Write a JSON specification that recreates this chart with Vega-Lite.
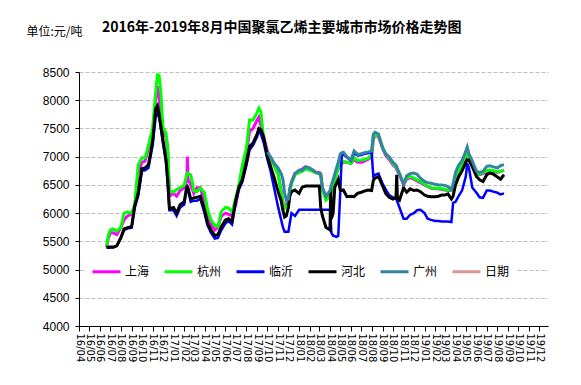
{
"$schema":"https://vega.github.io/schema/vega-lite/v6.json",
"width":469,"height":254,
"autosize":{"type":"none"},
"padding":{"left":79,"top":72,"right":33,"bottom":59},
"background":"white",
"title":{"text":"2016年-2019年8月中国聚氯乙烯主要城市市场价格走势图","anchor":"start","frame":"group","dx":23,"offset":-10,"font":"Noto Sans CJK SC","fontSize":14,"fontWeight":"bold","color":"black"},
"datasets":{
"sh":[{"d":"2016/06/20","v":5400},{"d":"2016/06/25","v":5550},{"d":"2016/07/01","v":5650},{"d":"2016/07/10","v":5650},{"d":"2016/07/20","v":5620},{"d":"2016/08/01","v":5750},{"d":"2016/08/10","v":5880},{"d":"2016/08/20","v":5950},{"d":"2016/09/01","v":5980},{"d":"2016/09/10","v":6100},{"d":"2016/09/20","v":6700},{"d":"2016/10/01","v":6900},{"d":"2016/10/10","v":6920},{"d":"2016/10/20","v":7150},{"d":"2016/11/01","v":7400},{"d":"2016/11/10","v":8000},{"d":"2016/11/15","v":8250},{"d":"2016/11/20","v":8050},{"d":"2016/11/25","v":7800},{"d":"2016/12/01","v":7450},{"d":"2016/12/10","v":7350},{"d":"2016/12/15","v":7100},{"d":"2016/12/20","v":6300},{"d":"2017/01/01","v":6350},{"d":"2017/01/10","v":6300},{"d":"2017/01/20","v":6400},{"d":"2017/02/01","v":6450},{"d":"2017/02/07","v":6550},{"d":"2017/02/09","v":6600},{"d":"2017/02/10","v":7000},{"d":"2017/02/12","v":6600},{"d":"2017/02/20","v":6500},{"d":"2017/03/01","v":6350},{"d":"2017/03/10","v":6450},{"d":"2017/03/20","v":6450},{"d":"2017/04/01","v":6200},{"d":"2017/04/10","v":5950},{"d":"2017/04/20","v":5800},{"d":"2017/05/01","v":5700},{"d":"2017/05/10","v":5750},{"d":"2017/05/20","v":5950},{"d":"2017/06/01","v":6000},{"d":"2017/06/10","v":5980},{"d":"2017/06/20","v":5950},{"d":"2017/07/01","v":6150},{"d":"2017/07/10","v":6450},{"d":"2017/07/20","v":6750},{"d":"2017/08/01","v":7050},{"d":"2017/08/10","v":7450},{"d":"2017/08/20","v":7500},{"d":"2017/09/01","v":7650},{"d":"2017/09/06","v":7700},{"d":"2017/09/12","v":7550},{"d":"2017/09/20","v":7350},{"d":"2017/10/01","v":7100},{"d":"2017/10/10","v":6950},{"d":"2017/10/20","v":6850},{"d":"2017/11/01","v":6700},{"d":"2017/11/10","v":6400},{"d":"2017/11/15","v":6200},{"d":"2017/11/20","v":6100},{"d":"2017/11/25","v":6150},{"d":"2017/12/01","v":6200},{"d":"2017/12/05","v":6380},{"d":"2017/12/10","v":6550},{"d":"2017/12/20","v":6700},{"d":"2018/01/01","v":6750},{"d":"2018/01/10","v":6780},{"d":"2018/01/20","v":6820},{"d":"2018/02/01","v":6780},{"d":"2018/02/10","v":6760},{"d":"2018/02/20","v":6720},{"d":"2018/03/01","v":6720},{"d":"2018/03/05","v":6700},{"d":"2018/03/10","v":6450},{"d":"2018/03/20","v":6280},{"d":"2018/04/01","v":6350},{"d":"2018/04/03","v":6400},{"d":"2018/04/05","v":6450},{"d":"2018/04/10","v":6550},{"d":"2018/04/15","v":6620},{"d":"2018/04/20","v":6700},{"d":"2018/04/25","v":6800},{"d":"2018/05/01","v":6850},{"d":"2018/05/05","v":6880},{"d":"2018/05/10","v":6900},{"d":"2018/05/20","v":6900},{"d":"2018/06/01","v":6880},{"d":"2018/06/10","v":6950},{"d":"2018/06/20","v":6900},{"d":"2018/07/01","v":6900},{"d":"2018/07/10","v":6920},{"d":"2018/07/20","v":6950},{"d":"2018/07/31","v":7000},{"d":"2018/08/05","v":7300},{"d":"2018/08/10","v":7380},{"d":"2018/08/20","v":7350},{"d":"2018/09/01","v":7150},{"d":"2018/09/10","v":7020},{"d":"2018/09/20","v":6950},{"d":"2018/10/01","v":6850},{"d":"2018/10/10","v":6800},{"d":"2018/10/12","v":6780},{"d":"2018/10/14","v":6750},{"d":"2018/10/20","v":6680},{"d":"2018/11/01","v":6500},{"d":"2018/11/10","v":6600},{"d":"2018/11/20","v":6630},{"d":"2018/12/01","v":6600},{"d":"2018/12/10","v":6570},{"d":"2018/12/20","v":6540},{"d":"2019/01/01","v":6500},{"d":"2019/01/10","v":6470},{"d":"2019/01/20","v":6440},{"d":"2019/02/01","v":6430},{"d":"2019/02/10","v":6430},{"d":"2019/02/20","v":6420},{"d":"2019/03/01","v":6410},{"d":"2019/03/10","v":6400},{"d":"2019/03/20","v":6400},{"d":"2019/03/25","v":6440},{"d":"2019/04/01","v":6650},{"d":"2019/04/10","v":6720},{"d":"2019/04/20","v":6860},{"d":"2019/05/01","v":6980},{"d":"2019/05/05","v":7050},{"d":"2019/05/10","v":6950},{"d":"2019/05/20","v":6840},{"d":"2019/06/01","v":6700},{"d":"2019/06/10","v":6680},{"d":"2019/06/20","v":6700},{"d":"2019/07/01","v":6740},{"d":"2019/07/10","v":6750},{"d":"2019/07/20","v":6740},{"d":"2019/08/01","v":6720},{"d":"2019/08/10","v":6740},{"d":"2019/08/20","v":6760}],
"hz":[{"d":"2016/06/20","v":5410},{"d":"2016/06/25","v":5600},{"d":"2016/07/01","v":5700},{"d":"2016/07/10","v":5720},{"d":"2016/07/20","v":5680},{"d":"2016/08/01","v":5750},{"d":"2016/08/10","v":6000},{"d":"2016/08/20","v":6020},{"d":"2016/09/01","v":6000},{"d":"2016/09/10","v":6150},{"d":"2016/09/20","v":6850},{"d":"2016/10/01","v":6980},{"d":"2016/10/10","v":6980},{"d":"2016/10/20","v":7200},{"d":"2016/11/01","v":7500},{"d":"2016/11/10","v":8150},{"d":"2016/11/15","v":8450},{"d":"2016/11/20","v":8440},{"d":"2016/11/25","v":8150},{"d":"2016/12/01","v":7520},{"d":"2016/12/10","v":7420},{"d":"2016/12/15","v":7170},{"d":"2016/12/20","v":6400},{"d":"2017/01/01","v":6370},{"d":"2017/01/10","v":6420},{"d":"2017/01/20","v":6450},{"d":"2017/02/01","v":6500},{"d":"2017/02/07","v":6650},{"d":"2017/02/09","v":6700},{"d":"2017/02/10","v":6710},{"d":"2017/02/12","v":6700},{"d":"2017/02/20","v":6680},{"d":"2017/03/01","v":6400},{"d":"2017/03/10","v":6380},{"d":"2017/03/20","v":6440},{"d":"2017/04/01","v":6360},{"d":"2017/04/10","v":6060},{"d":"2017/04/20","v":5880},{"d":"2017/05/01","v":5780},{"d":"2017/05/10","v":5760},{"d":"2017/05/20","v":6030},{"d":"2017/06/01","v":6100},{"d":"2017/06/10","v":6090},{"d":"2017/06/20","v":6020},{"d":"2017/07/01","v":6270},{"d":"2017/07/10","v":6500},{"d":"2017/07/20","v":6850},{"d":"2017/08/01","v":7150},{"d":"2017/08/10","v":7650},{"d":"2017/08/20","v":7650},{"d":"2017/09/01","v":7780},{"d":"2017/09/06","v":7860},{"d":"2017/09/12","v":7800},{"d":"2017/09/20","v":7300},{"d":"2017/10/01","v":7050},{"d":"2017/10/10","v":6950},{"d":"2017/10/20","v":6850},{"d":"2017/11/01","v":6680},{"d":"2017/11/10","v":6370},{"d":"2017/11/15","v":6200},{"d":"2017/11/20","v":6090},{"d":"2017/11/25","v":6120},{"d":"2017/12/01","v":6150},{"d":"2017/12/05","v":6370},{"d":"2017/12/10","v":6520},{"d":"2017/12/20","v":6680},{"d":"2018/01/01","v":6720},{"d":"2018/01/10","v":6740},{"d":"2018/01/20","v":6780},{"d":"2018/02/01","v":6760},{"d":"2018/02/10","v":6740},{"d":"2018/02/20","v":6710},{"d":"2018/03/01","v":6700},{"d":"2018/03/05","v":6690},{"d":"2018/03/10","v":6400},{"d":"2018/03/20","v":6230},{"d":"2018/04/01","v":6300},{"d":"2018/04/03","v":6350},{"d":"2018/04/05","v":6400},{"d":"2018/04/10","v":6500},{"d":"2018/04/15","v":6600},{"d":"2018/04/20","v":6700},{"d":"2018/04/25","v":6800},{"d":"2018/05/01","v":6880},{"d":"2018/05/05","v":6900},{"d":"2018/05/10","v":6920},{"d":"2018/05/20","v":6900},{"d":"2018/06/01","v":6880},{"d":"2018/06/10","v":6980},{"d":"2018/06/20","v":6930},{"d":"2018/07/01","v":6940},{"d":"2018/07/10","v":6950},{"d":"2018/07/20","v":6970},{"d":"2018/07/31","v":7030},{"d":"2018/08/05","v":7350},{"d":"2018/08/10","v":7380},{"d":"2018/08/20","v":7370},{"d":"2018/09/01","v":7170},{"d":"2018/09/10","v":7050},{"d":"2018/09/20","v":6980},{"d":"2018/10/01","v":6870},{"d":"2018/10/10","v":6820},{"d":"2018/10/12","v":6800},{"d":"2018/10/14","v":6770},{"d":"2018/10/20","v":6700},{"d":"2018/11/01","v":6520},{"d":"2018/11/10","v":6620},{"d":"2018/11/20","v":6650},{"d":"2018/12/01","v":6620},{"d":"2018/12/10","v":6590},{"d":"2018/12/20","v":6560},{"d":"2019/01/01","v":6510},{"d":"2019/01/10","v":6480},{"d":"2019/01/20","v":6450},{"d":"2019/02/01","v":6440},{"d":"2019/02/10","v":6440},{"d":"2019/02/20","v":6430},{"d":"2019/03/01","v":6420},{"d":"2019/03/10","v":6410},{"d":"2019/03/20","v":6410},{"d":"2019/03/25","v":6450},{"d":"2019/04/01","v":6670},{"d":"2019/04/10","v":6730},{"d":"2019/04/20","v":6880},{"d":"2019/05/01","v":7030},{"d":"2019/05/05","v":7060},{"d":"2019/05/10","v":6960},{"d":"2019/05/20","v":6850},{"d":"2019/06/01","v":6700},{"d":"2019/06/10","v":6690},{"d":"2019/06/20","v":6720},{"d":"2019/07/01","v":6750},{"d":"2019/07/10","v":6760},{"d":"2019/07/20","v":6750},{"d":"2019/08/01","v":6730},{"d":"2019/08/10","v":6740},{"d":"2019/08/20","v":6760}],
"ly":[{"d":"2016/06/20","v":5380},{"d":"2016/06/25","v":5380},{"d":"2016/07/01","v":5390},{"d":"2016/07/10","v":5390},{"d":"2016/07/20","v":5420},{"d":"2016/08/01","v":5560},{"d":"2016/08/10","v":5700},{"d":"2016/08/20","v":5730},{"d":"2016/09/01","v":5740},{"d":"2016/09/10","v":6100},{"d":"2016/09/20","v":6300},{"d":"2016/10/01","v":6750},{"d":"2016/10/10","v":6760},{"d":"2016/10/20","v":6800},{"d":"2016/11/01","v":7200},{"d":"2016/11/10","v":7700},{"d":"2016/11/15","v":7770},{"d":"2016/11/20","v":7700},{"d":"2016/11/25","v":7500},{"d":"2016/12/01","v":7250},{"d":"2016/12/10","v":6900},{"d":"2016/12/15","v":6500},{"d":"2016/12/20","v":6050},{"d":"2017/01/01","v":6050},{"d":"2017/01/10","v":5950},{"d":"2017/01/20","v":6100},{"d":"2017/02/01","v":6150},{"d":"2017/02/07","v":6400},{"d":"2017/02/09","v":6430},{"d":"2017/02/10","v":6430},{"d":"2017/02/12","v":6400},{"d":"2017/02/20","v":6200},{"d":"2017/03/01","v":6220},{"d":"2017/03/10","v":6220},{"d":"2017/03/20","v":6250},{"d":"2017/04/01","v":6000},{"d":"2017/04/10","v":5780},{"d":"2017/04/20","v":5650},{"d":"2017/05/01","v":5550},{"d":"2017/05/10","v":5560},{"d":"2017/05/20","v":5700},{"d":"2017/06/01","v":5820},{"d":"2017/06/10","v":5860},{"d":"2017/06/20","v":5800},{"d":"2017/07/01","v":6200},{"d":"2017/07/10","v":6420},{"d":"2017/07/20","v":6550},{"d":"2017/08/01","v":6850},{"d":"2017/08/10","v":7120},{"d":"2017/08/20","v":7200},{"d":"2017/09/01","v":7350},{"d":"2017/09/06","v":7450},{"d":"2017/09/12","v":7400},{"d":"2017/09/20","v":7250},{"d":"2017/10/01","v":6950},{"d":"2017/10/10","v":6750},{"d":"2017/10/20","v":6460},{"d":"2017/11/01","v":6110},{"d":"2017/11/10","v":5880},{"d":"2017/11/15","v":5750},{"d":"2017/11/20","v":5670},{"d":"2017/11/25","v":5670},{"d":"2017/12/01","v":5670},{"d":"2017/12/05","v":5820},{"d":"2017/12/10","v":6000},{"d":"2017/12/20","v":5950},{"d":"2018/01/01","v":6060},{"d":"2018/01/10","v":6060},{"d":"2018/01/20","v":6060},{"d":"2018/02/01","v":6060},{"d":"2018/02/10","v":6060},{"d":"2018/02/20","v":6060},{"d":"2018/03/01","v":6060},{"d":"2018/03/05","v":6060},{"d":"2018/03/10","v":6060},{"d":"2018/03/20","v":6060},{"d":"2018/04/01","v":6060},{"d":"2018/04/03","v":5900},{"d":"2018/04/05","v":5650},{"d":"2018/04/10","v":5600},{"d":"2018/04/15","v":5590},{"d":"2018/04/20","v":5580},{"d":"2018/04/25","v":5600},{"d":"2018/05/01","v":6400},{"d":"2018/05/05","v":7000},{"d":"2018/05/10","v":7050},{"d":"2018/05/20","v":6990},{"d":"2018/06/01","v":6930},{"d":"2018/06/10","v":7060},{"d":"2018/06/20","v":7020},{"d":"2018/07/01","v":7030},{"d":"2018/07/10","v":7050},{"d":"2018/07/20","v":7060},{"d":"2018/07/31","v":7080},{"d":"2018/08/05","v":6650},{"d":"2018/08/10","v":6680},{"d":"2018/08/20","v":6700},{"d":"2018/09/01","v":6520},{"d":"2018/09/10","v":6420},{"d":"2018/09/20","v":6320},{"d":"2018/10/01","v":6280},{"d":"2018/10/10","v":6250},{"d":"2018/10/12","v":6230},{"d":"2018/10/14","v":6200},{"d":"2018/10/20","v":6100},{"d":"2018/11/01","v":5900},{"d":"2018/11/10","v":5900},{"d":"2018/11/20","v":5970},{"d":"2018/12/01","v":6000},{"d":"2018/12/10","v":6050},{"d":"2018/12/20","v":6060},{"d":"2019/01/01","v":6000},{"d":"2019/01/10","v":5900},{"d":"2019/01/20","v":5880},{"d":"2019/02/01","v":5860},{"d":"2019/02/10","v":5860},{"d":"2019/02/20","v":5850},{"d":"2019/03/01","v":5850},{"d":"2019/03/10","v":5850},{"d":"2019/03/20","v":5840},{"d":"2019/03/25","v":6180},{"d":"2019/04/01","v":6200},{"d":"2019/04/10","v":6300},{"d":"2019/04/20","v":6400},{"d":"2019/05/01","v":6650},{"d":"2019/05/05","v":6880},{"d":"2019/05/10","v":6800},{"d":"2019/05/20","v":6450},{"d":"2019/06/01","v":6360},{"d":"2019/06/10","v":6280},{"d":"2019/06/20","v":6270},{"d":"2019/07/01","v":6400},{"d":"2019/07/10","v":6400},{"d":"2019/07/20","v":6380},{"d":"2019/08/01","v":6360},{"d":"2019/08/10","v":6330},{"d":"2019/08/20","v":6350}],
"hb":[{"d":"2016/06/20","v":5390},{"d":"2016/06/25","v":5400},{"d":"2016/07/01","v":5400},{"d":"2016/07/10","v":5400},{"d":"2016/07/20","v":5420},{"d":"2016/08/01","v":5570},{"d":"2016/08/10","v":5720},{"d":"2016/08/20","v":5740},{"d":"2016/09/01","v":5760},{"d":"2016/09/10","v":6130},{"d":"2016/09/20","v":6350},{"d":"2016/10/01","v":6790},{"d":"2016/10/10","v":6800},{"d":"2016/10/20","v":6860},{"d":"2016/11/01","v":7250},{"d":"2016/11/10","v":7850},{"d":"2016/11/15","v":7900},{"d":"2016/11/20","v":7750},{"d":"2016/11/25","v":7550},{"d":"2016/12/01","v":7300},{"d":"2016/12/10","v":6950},{"d":"2016/12/15","v":6600},{"d":"2016/12/20","v":6080},{"d":"2017/01/01","v":6100},{"d":"2017/01/10","v":6000},{"d":"2017/01/20","v":6150},{"d":"2017/02/01","v":6200},{"d":"2017/02/07","v":6420},{"d":"2017/02/09","v":6460},{"d":"2017/02/10","v":6470},{"d":"2017/02/12","v":6450},{"d":"2017/02/20","v":6250},{"d":"2017/03/01","v":6270},{"d":"2017/03/10","v":6280},{"d":"2017/03/20","v":6300},{"d":"2017/04/01","v":6050},{"d":"2017/04/10","v":5820},{"d":"2017/04/20","v":5700},{"d":"2017/05/01","v":5600},{"d":"2017/05/10","v":5620},{"d":"2017/05/20","v":5760},{"d":"2017/06/01","v":5880},{"d":"2017/06/10","v":5900},{"d":"2017/06/20","v":5850},{"d":"2017/07/01","v":6230},{"d":"2017/07/10","v":6460},{"d":"2017/07/20","v":6590},{"d":"2017/08/01","v":6900},{"d":"2017/08/10","v":7180},{"d":"2017/08/20","v":7240},{"d":"2017/09/01","v":7400},{"d":"2017/09/06","v":7500},{"d":"2017/09/12","v":7480},{"d":"2017/09/20","v":7350},{"d":"2017/10/01","v":7000},{"d":"2017/10/10","v":6830},{"d":"2017/10/20","v":6640},{"d":"2017/11/01","v":6380},{"d":"2017/11/10","v":6220},{"d":"2017/11/15","v":6050},{"d":"2017/11/20","v":5930},{"d":"2017/11/25","v":5950},{"d":"2017/12/01","v":6100},{"d":"2017/12/05","v":6300},{"d":"2017/12/10","v":6380},{"d":"2017/12/20","v":6410},{"d":"2018/01/01","v":6350},{"d":"2018/01/10","v":6460},{"d":"2018/01/20","v":6480},{"d":"2018/02/01","v":6480},{"d":"2018/02/10","v":6480},{"d":"2018/02/20","v":6480},{"d":"2018/03/01","v":6480},{"d":"2018/03/05","v":6100},{"d":"2018/03/10","v":5950},{"d":"2018/03/20","v":5750},{"d":"2018/04/01","v":5700},{"d":"2018/04/03","v":6450},{"d":"2018/04/05","v":5900},{"d":"2018/04/10","v":6000},{"d":"2018/04/15","v":6460},{"d":"2018/04/20","v":6530},{"d":"2018/04/25","v":6600},{"d":"2018/05/01","v":6400},{"d":"2018/05/05","v":6400},{"d":"2018/05/10","v":6410},{"d":"2018/05/20","v":6290},{"d":"2018/06/01","v":6300},{"d":"2018/06/10","v":6290},{"d":"2018/06/20","v":6350},{"d":"2018/07/01","v":6370},{"d":"2018/07/10","v":6390},{"d":"2018/07/20","v":6410},{"d":"2018/07/31","v":6400},{"d":"2018/08/05","v":6580},{"d":"2018/08/10","v":6620},{"d":"2018/08/20","v":6650},{"d":"2018/09/01","v":6480},{"d":"2018/09/10","v":6350},{"d":"2018/09/20","v":6280},{"d":"2018/10/01","v":6250},{"d":"2018/10/10","v":6280},{"d":"2018/10/12","v":6680},{"d":"2018/10/14","v":6260},{"d":"2018/10/20","v":6230},{"d":"2018/11/01","v":6450},{"d":"2018/11/10","v":6370},{"d":"2018/11/20","v":6430},{"d":"2018/12/01","v":6400},{"d":"2018/12/10","v":6410},{"d":"2018/12/20","v":6380},{"d":"2019/01/01","v":6320},{"d":"2019/01/10","v":6300},{"d":"2019/01/20","v":6290},{"d":"2019/02/01","v":6290},{"d":"2019/02/10","v":6300},{"d":"2019/02/20","v":6320},{"d":"2019/03/01","v":6320},{"d":"2019/03/10","v":6340},{"d":"2019/03/20","v":6250},{"d":"2019/03/25","v":6300},{"d":"2019/04/01","v":6500},{"d":"2019/04/10","v":6640},{"d":"2019/04/20","v":6750},{"d":"2019/05/01","v":6900},{"d":"2019/05/05","v":6940},{"d":"2019/05/10","v":6940},{"d":"2019/05/20","v":6820},{"d":"2019/06/01","v":6650},{"d":"2019/06/10","v":6590},{"d":"2019/06/20","v":6560},{"d":"2019/07/01","v":6680},{"d":"2019/07/10","v":6710},{"d":"2019/07/20","v":6690},{"d":"2019/08/01","v":6640},{"d":"2019/08/10","v":6600},{"d":"2019/08/20","v":6680}],
"gz":[{"d":"2017/10/01","v":7080},{"d":"2017/10/10","v":7000},{"d":"2017/10/20","v":6890},{"d":"2017/11/01","v":6800},{"d":"2017/11/10","v":6700},{"d":"2017/11/15","v":6600},{"d":"2017/11/20","v":6360},{"d":"2017/11/25","v":6230},{"d":"2017/12/01","v":6250},{"d":"2017/12/05","v":6450},{"d":"2017/12/10","v":6550},{"d":"2017/12/20","v":6700},{"d":"2018/01/01","v":6760},{"d":"2018/01/10","v":6760},{"d":"2018/01/20","v":6820},{"d":"2018/02/01","v":6800},{"d":"2018/02/10","v":6760},{"d":"2018/02/20","v":6720},{"d":"2018/03/01","v":6700},{"d":"2018/03/05","v":6680},{"d":"2018/03/10","v":6450},{"d":"2018/03/20","v":6300},{"d":"2018/04/01","v":6400},{"d":"2018/04/03","v":6450},{"d":"2018/04/05","v":6500},{"d":"2018/04/10","v":6590},{"d":"2018/04/15","v":6700},{"d":"2018/04/20","v":6800},{"d":"2018/04/25","v":6900},{"d":"2018/05/01","v":7050},{"d":"2018/05/05","v":7070},{"d":"2018/05/10","v":7080},{"d":"2018/05/20","v":7000},{"d":"2018/06/01","v":6940},{"d":"2018/06/10","v":7100},{"d":"2018/06/20","v":7040},{"d":"2018/07/01","v":7050},{"d":"2018/07/10","v":7070},{"d":"2018/07/20","v":7080},{"d":"2018/07/31","v":7100},{"d":"2018/08/05","v":7400},{"d":"2018/08/10","v":7430},{"d":"2018/08/20","v":7400},{"d":"2018/09/01","v":7150},{"d":"2018/09/10","v":7050},{"d":"2018/09/20","v":7000},{"d":"2018/10/01","v":6900},{"d":"2018/10/10","v":6850},{"d":"2018/10/12","v":6820},{"d":"2018/10/14","v":6790},{"d":"2018/10/20","v":6700},{"d":"2018/11/01","v":6520},{"d":"2018/11/10","v":6660},{"d":"2018/11/20","v":6700},{"d":"2018/12/01","v":6710},{"d":"2018/12/10","v":6690},{"d":"2018/12/20","v":6620},{"d":"2019/01/01","v":6560},{"d":"2019/01/10","v":6540},{"d":"2019/01/20","v":6530},{"d":"2019/02/01","v":6510},{"d":"2019/02/10","v":6500},{"d":"2019/02/20","v":6500},{"d":"2019/03/01","v":6490},{"d":"2019/03/10","v":6470},{"d":"2019/03/20","v":6420},{"d":"2019/03/25","v":6520},{"d":"2019/04/01","v":6720},{"d":"2019/04/10","v":6850},{"d":"2019/04/20","v":6930},{"d":"2019/05/01","v":7100},{"d":"2019/05/05","v":7170},{"d":"2019/05/10","v":7050},{"d":"2019/05/20","v":6920},{"d":"2019/06/01","v":6740},{"d":"2019/06/10","v":6720},{"d":"2019/06/20","v":6740},{"d":"2019/07/01","v":6830},{"d":"2019/07/10","v":6840},{"d":"2019/07/20","v":6820},{"d":"2019/08/01","v":6800},{"d":"2019/08/10","v":6840},{"d":"2019/08/20","v":6860}]
},
"encoding":{
"x":{"field":"d","type":"temporal","scale":{"domain":[{"year":2016,"month":4,"date":1},{"year":2019,"month":12,"date":26}],"nice":false},
"axis":{"title":null,"format":"%y/%m","tickCount":{"interval":"month","step":1},"labelAngle":90,"labelFont":"DejaVu Sans","labelFontSize":10,"labelColor":"black","labelPadding":2,"tickSize":5,"tickColor":"black","domainColor":"black","grid":false,"labelOverlap":false,"labelFlush":false,"labelBound":false}},
"y":{"field":"v","type":"quantitative","scale":{"domain":[4000,8500],"nice":false,"zero":false},
"axis":{"values":[4000,4500,5000,5500,6000,6500,7000,7500,8000,8500],"format":"d","title":"单位:元/吨","titleAngle":0,"titleX":-53,"titleY":-41,"titleAlign":"left","titleBaseline":"middle","titleFont":"Noto Sans CJK SC","titleFontSize":12,"titleFontWeight":"normal","titleColor":"black","labelFont":"Liberation Sans","labelFontSize":12,"labelColor":"black","tickSize":4,"labelPadding":6,"grid":true,"gridDash":[4,2],"gridColor":"#BFBFBF","domainColor":"black","tickColor":"black"}}
},
"layer":[
{"data":{"name":"sh"},"mark":{"type":"line","strokeWidth":3},"encoding":{"color":{"datum":"上海","type":"nominal","scale":{"domain":["上海","杭州","临沂","河北","广州","日期"],"range":["#FF00FF","#00FF00","#0000FF","#000000","#31859C","#D99694"]},
"legend":{"orient":"none","legendX":5,"legendY":177,"direction":"horizontal","columns":6,"title":null,"symbolType":"stroke","symbolSize":784,"symbolStrokeWidth":3,"labelFont":"Noto Sans CJK SC","labelFontSize":12,"labelColor":"black","labelOffset":3,"columnPadding":8,"fillColor":"white","padding":7}}}},
{"data":{"name":"hz"},"mark":{"type":"line","strokeWidth":3},"encoding":{"color":{"datum":"杭州","type":"nominal"}}},
{"data":{"name":"ly"},"mark":{"type":"line","strokeWidth":2.5},"encoding":{"color":{"datum":"临沂","type":"nominal"}}},
{"data":{"name":"hb"},"mark":{"type":"line","strokeWidth":3},"encoding":{"color":{"datum":"河北","type":"nominal"}}},
{"data":{"name":"gz"},"mark":{"type":"line","strokeWidth":3},"encoding":{"color":{"datum":"广州","type":"nominal"}}}
],
"config":{"view":{"stroke":null},"font":"Liberation Sans"}
}
